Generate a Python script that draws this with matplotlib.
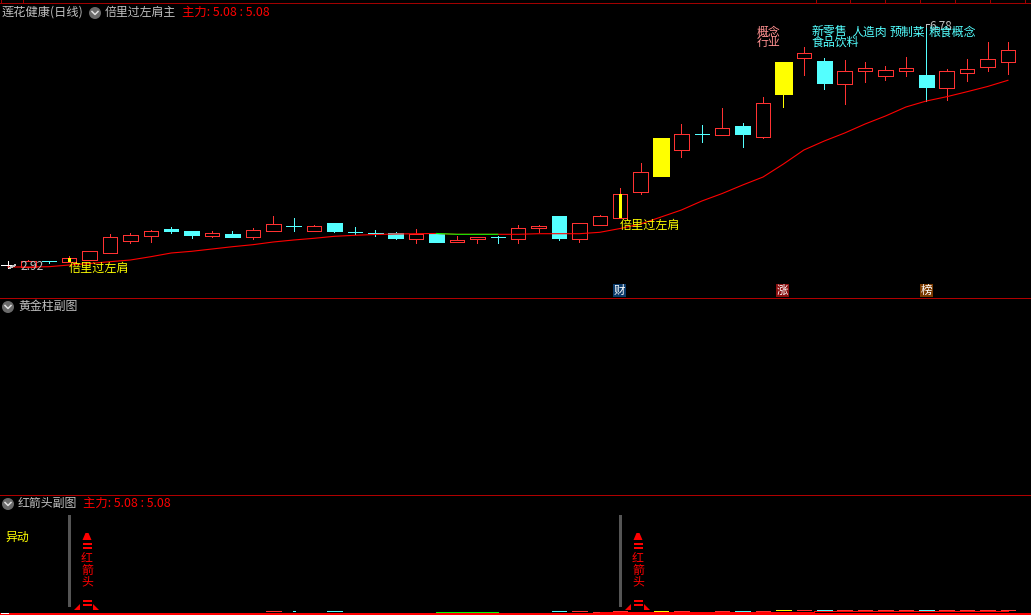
import matplotlib
matplotlib.use('Agg')
import matplotlib.pyplot as plt
import matplotlib.patches as patches
import numpy as np

plt.rcParams['font.family'] = ['Noto Sans CJK SC', 'DejaVu Sans']

# candle values, in screen rows of the main panel
body_top = [265.3, 261, 261, 258.3, 251.3, 237.3, 235.3, 231.3, 229, 231,
            233.3, 234, 230.3, 224.3, 226.3, 226.3, 223, 231.7, 233.3, 233,
            234.3, 233.7, 240, 237, 237.3, 228.3, 226, 216, 223.3, 216.3,
            194, 172.3, 138, 134.3, 134.3, 128.3, 126, 103.3, 62, 53.3,
            61, 71.3, 68.3, 70.3, 68.3, 75, 71.3, 69.3, 58.7, 49.7]
body_bot = [265.3, 267, 261, 261.7, 259.7, 252.7, 240.7, 235.7, 231, 235,
            235.7, 237, 236.7, 230.7, 226.3, 230.7, 231, 231.7, 233.3, 238,
            238.7, 241.7, 242, 239, 237.3, 238.7, 228, 237.7, 238.7, 224.7,
            217.7, 191.7, 176, 149.7, 134.3, 134.7, 134, 136.7, 94, 57.7,
            82.7, 83.7, 70.7, 75.7, 70.7, 86.7, 87.7, 73.3, 66.7, 61.7]
wick_high = [260.7, 260, 261, 256, 251, 234, 233, 230, 227, 231,
             231, 231, 228, 216, 218, 225, 223, 227, 230, 232,
             229, 233.7, 236, 237, 235.7, 225, 225, 216, 223.3, 215,
             188, 163, 138, 124, 125, 108, 123, 97, 62, 47,
             58, 60, 62, 66, 57, 24, 69, 59, 42, 42]
wick_low = [268, 267, 263, 262, 260, 253, 242.7, 242, 233, 238,
            237, 237, 239, 231, 231, 231, 232, 234, 236, 239,
            242.7, 241.7, 242, 242.7, 243, 243, 232, 240, 242, 225,
            218, 193.7, 176, 156.7, 142, 135, 146.7, 138, 107, 75,
            89, 104, 82, 80, 76, 101, 100, 81, 71, 74]
kinds = list('wrcrrrrrcc' 'rcrrcrc' 'ccc' 'rcrrcrrcrr' 'rrYrcrcrYr' 'crrrrcrrrr')

ma_line = [267, 267, 266.7, 265, 263.5, 261.7, 260, 256.7, 253, 251.3,
           249, 246.7, 244.7, 242, 240, 238.3, 236.3, 235.3, 234.5, 234,
           233.7, 233.5, 234.3, 234.3, 234.3, 234.3, 233.7, 233.7, 233.7, 232.3,
           228.5, 224, 217, 210, 201, 193.5, 185, 177, 164, 150,
           141, 133, 124, 116, 107, 101, 96.7, 91.7, 86.5, 80.3]
green_from, green_to = 21, 24

# small yellow marks inside two candles
mark_idx = [3, 30]

# tiny candles on the floor of the lower panel
mini_top = [np.nan] * 13 + [611, 611, np.nan, 611] + [np.nan] * 10 + [611, 611, 611.5,
            611, np.nan, 610.5, 610.5, np.nan, 610.5, 610.5, 610.5, 609.5, 609.5,
            609.5, 609.5, 609.5, 609.5, 609.5, 609.5, 609.5, 609.5, 609.5, 609.5]
mini_ma_x = [29, 30.5, 39.5, 49]
mini_ma_y = [612, 611.5, 610.5, 610.5]

top_ticks = [1, 23, 816, 850, 885, 920, 955, 990, 1025]
concept_tags = ['新零售', '人造肉', '预制菜', '粮食概念']
concept_x = [812, 851, 890, 929]

RED = '#ff3232'
CYAN = '#54ffff'
YELLOW = '#ffff00'
GREY = '#c0c0c0'
colors = {'r': RED, 'c': CYAN, 'Y': YELLOW, 'w': '#ffffff'}

px = 1 / 100 * 72  # one pixel in points

fig = plt.figure(figsize=(10.31, 6.15), dpi=100, facecolor='black')

# candles, x in bar numbers
ax = fig.add_axes([0, 0, 1, 1], zorder=1)
ax.set_facecolor('black')
ax.set_xlim(-0.39, 50.13)
ax.set_ylim(615, 0)
ax.axis('off')

# --- main panel candles ---
for i in range(len(body_top)):
    k = kinds[i]
    c = colors[k]
    ax.plot([i, i], [wick_high[i], body_top[i]], color=c, lw=px, antialiased=False, zorder=3)
    ax.plot([i, i], [body_bot[i], wick_low[i]], color=c, lw=px, antialiased=False, zorder=3)
    width = 0.83 if k == 'Y' else 0.71
    h = body_bot[i] - body_top[i]
    if h == 0:
        ax.plot([i - width / 2, i + width / 2], [body_top[i]] * 2, color=c, lw=px,
                antialiased=False, zorder=3)
    elif k == 'r':
        ax.add_patch(patches.Rectangle((i - width / 2, body_top[i]), width, h, facecolor='black',
                                       edgecolor=c, lw=px, antialiased=False, zorder=4))
    else:
        ax.add_patch(patches.Rectangle((i - width / 2, body_top[i]), width, h, facecolor=c,
                                       edgecolor=c, lw=px * 0.5, antialiased=False, zorder=4))

for i in mark_idx:
    ax.add_patch(patches.Rectangle((i - 0.08, body_top[i]), 0.16, body_bot[i] - body_top[i],
                                   facecolor=YELLOW, edgecolor='none', antialiased=False, zorder=5))

# moving line, with its green stretch
x_ma = np.arange(len(ma_line))
ax.plot(x_ma, ma_line, color='#ff0000', lw=0.8, antialiased=True, zorder=6)
ax.plot(x_ma[green_from:green_to + 1], ma_line[green_from:green_to + 1], color='#00ff00',
        lw=0.8, antialiased=True, zorder=6)

# --- lower panel mini candles ---
for i, y in enumerate(mini_top):
    if np.isnan(y):
        continue
    c = colors[kinds[i]]
    w = 0.1 if body_top[i] == body_bot[i] else 0.71
    ax.plot([i - w / 2, i + w / 2], [y, y], color=c, lw=px * 0.9, antialiased=False,
            solid_capstyle='butt', zorder=3)
ax.plot(mini_ma_x, mini_ma_y, color='#ff0000', lw=px * 0.8, drawstyle='steps-post', antialiased=False, zorder=3)
ax.plot([21, 24], [612.5, 612.5], color='#00ff00', lw=px * 1.5, antialiased=False, zorder=4)

# overlay in screen pixels for rules and labels
ov = fig.add_axes([0, 0, 1, 1], zorder=2)
ov.patch.set_alpha(0)
ov.set_xlim(0, 1031)
ov.set_ylim(615, 0)
ov.axis('off')

# panel rules
ov.hlines(3, 0, 1031, color='#a00000', lw=px, antialiased=False)
ov.vlines(top_ticks, 0, 3, color='#a00000', lw=px, antialiased=False)
ov.hlines([298, 495], 0, 1031, color='#b00000', lw=px, antialiased=False)
ov.hlines(613.5, 0, 1031, color='#ff0000', lw=px * 2, antialiased=False, zorder=1)
ov.hlines(612.5, 1, 8, color='white', lw=px, antialiased=False)


def icon(x, y):
    ov.add_patch(patches.Circle((x, y), 6, facecolor='#6a6a6a', edgecolor='none'))
    ov.plot([x - 3, x, x + 3], [y - 1.5, y + 1.5, y - 1.5], color='#e0e0e0', lw=1.1)


def label(x, y, s, color=GREY, size=8.6, **kw):
    ov.text(x, y, s, color=color, fontsize=size, va='center', ha='left', **kw)


# headers
label(2, 12.5, '莲花健康(日线)', size=8.8)
icon(95, 13)
label(105, 12.5, '倍里过左肩主')
label(182, 12.5, '主力: 5.08 : 5.08', color='#ff0000', size=8.9)
icon(8, 307)
label(18, 306.5, '黄金柱副图')
icon(8, 504)
label(18, 503.5, '红箭头副图')
label(83, 503.5, '主力: 5.08 : 5.08', color='#ff0000', size=8.9)
label(5, 537, '异动', color=YELLOW)

# low price mark and high price mark
ov.plot([10, 15], [268, 265], color=GREY, lw=px, antialiased=False)
label(21, 267, '2.92')
ov.plot([926, 926, 929], [27, 24, 24], color=GREY, lw=px, antialiased=False)
label(929, 26, '6.78', size=8.5)

# signals
label(69, 268, '倍里过左肩', color=YELLOW, size=8.7)
label(620, 225, '倍里过左肩', color=YELLOW, size=8.7)

# concept tags
label(757, 32, '概念', color='#ff9090')
label(757, 42.5, '行业', color='#ff9090')
for x, s in zip(concept_x, concept_tags):
    label(x, 32, s, color=CYAN)
label(812, 42.5, '食品饮料', color=CYAN)

# event badges
for x, s, bg in zip([613, 776, 920], ['财', '涨', '榜'], ['#0a3a6a', '#8a1010', '#7a3a00']):
    ov.add_patch(patches.Rectangle((x, 284), 13, 13, facecolor=bg, edgecolor='none'))
    ov.text(x + 6.5, 290.5, s, color='white', fontsize=8.3, ha='center', va='center')

# red arrows with their grey bars
for x in [87, 638]:
    ov.add_patch(patches.Rectangle((x - 19, 515), 3, 92, facecolor='#555555', edgecolor='none'))
    ov.add_patch(patches.Polygon([(x - 4.5, 540), (x - 1.5, 533), (x + 1.5, 533), (x + 4.5, 540)],
                                 facecolor='#ff0000', edgecolor='none'))
    for y in [543, 547, 600, 604]:
        ov.add_patch(patches.Rectangle((x - 4.5, y), 9, 2, facecolor='#ff0000', edgecolor='none'))
    ov.add_patch(patches.Polygon([(x - 13, 609.5), (x - 7, 609.5), (x - 7, 604)], facecolor='#ff0000', edgecolor='none'))
    ov.add_patch(patches.Polygon([(x + 12, 609.5), (x + 6, 609.5), (x + 6, 604)], facecolor='#ff0000', edgecolor='none'))
    for y, s in zip([558, 570, 582], '红箭头'):
        ov.text(x, y, s, color='#ff0000', fontsize=8.6, ha='center', va='center')

fig.savefig('out.png', dpi=100, facecolor='black')
